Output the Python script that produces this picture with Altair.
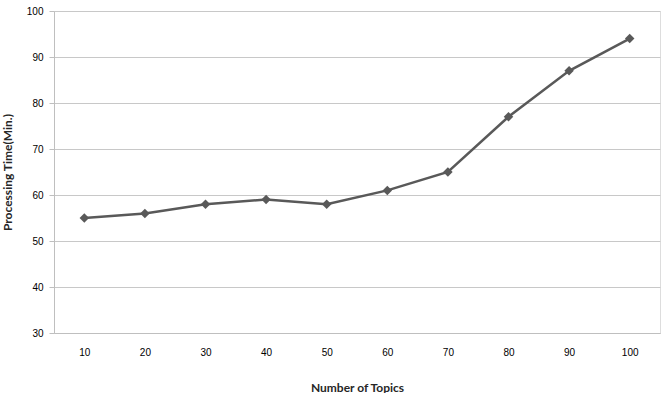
import altair as alt
import pandas as pd

# Processing time for different topic counts
topics = ["10", "20", "30", "40", "50", "60", "70", "80", "90", "100"]
minutes = [55, 56, 58, 59, 58, 61, 65, 77, 87, 94]

df = pd.DataFrame({"topics": topics, "minutes": minutes})

GRAY = "#595959"
FONT = "Lato"

x = alt.X(
    "topics:O",
    sort=topics,
    title="Number of Topics",
    scale=alt.Scale(paddingInner=0, paddingOuter=0.5),
    axis=alt.Axis(
        labelAngle=0,
        ticks=False,
        domainColor="#bfbfbf",
        labelPadding=14,
        titlePadding=25,
        titleFont=FONT,
        titleFontWeight="bold",
        titleFontSize=12,
        titleColor="#262626",
    ),
)
y = alt.Y(
    "minutes:Q",
    title="Processing Time(Min.)",
    scale=alt.Scale(domain=[30, 100], nice=False, zero=False),
    axis=alt.Axis(
        values=list(range(30, 101, 10)),
        tickSize=5,
        tickColor="#bfbfbf",
        domainColor="#bfbfbf",
        gridColor="#c8c8c8",
        labelPadding=6,
        titlePadding=12,
        titleFont=FONT,
        titleFontWeight="bold",
        titleFontSize=12,
        titleColor="#262626",
    ),
)

line = alt.Chart(df).mark_line(color=GRAY, strokeWidth=2.5).encode(x=x, y=y)
pts = alt.Chart(df).mark_point(
    shape="diamond", filled=True, color=GRAY, size=90, opacity=1
).encode(x=x, y=y)

chart = (
    (line + pts)
    .properties(
        width=606,
        height=322,
        autosize=alt.AutoSizeParams(type="none"),
        padding={"left": 54, "top": 11, "right": 7, "bottom": 60},
    )
    .configure_view(stroke="#bfbfbf", strokeWidth=1)
    .configure_axis(
        labelFont=FONT,
        labelFontSize=12,
        labelColor=GRAY,
    )
    .configure(background="white")
)

chart.save("out.html", embed_options={"renderer": "svg", "actions": False})
